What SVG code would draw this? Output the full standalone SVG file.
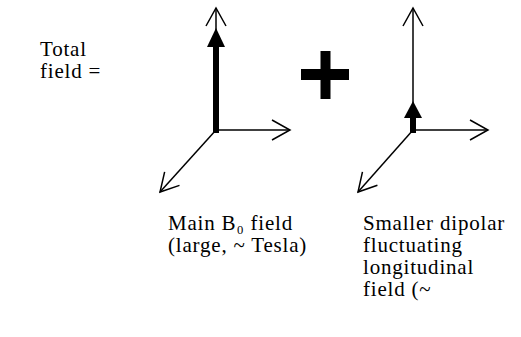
<svg xmlns="http://www.w3.org/2000/svg" width="521" height="337" viewBox="0 0 521 337">
<style>
text{font-family:'Liberation Serif','Times New Roman',serif;font-size:21px;letter-spacing:0.8px;fill:#000}
.thin{stroke:#000;stroke-width:1.5;fill:none}
.thick{stroke:#000;stroke-width:6;fill:none}
</style>
<defs>
<marker id="open" markerUnits="userSpaceOnUse" markerWidth="24" markerHeight="24" viewBox="-20 -12 22 24" refX="0" refY="0" orient="auto">
<path d="M-18,-10 L0,0 L-18,10" fill="none" stroke="#000" stroke-width="1.5"/>
</marker>
</defs>
<rect width="521" height="337" fill="#fff"/>
<g id="label-total">
<text x="40" y="56">Total</text>
<text x="40" y="78">field =</text>
</g>
<g id="connectors">
<g id="axes-main">
<line class="thin" x1="216" y1="130" x2="216" y2="8" marker-end="url(#open)"/>
<line class="thin" x1="215" y1="130" x2="290" y2="130" marker-end="url(#open)"/>
<line class="thin" x1="216" y1="130" x2="160" y2="192" marker-end="url(#open)"/>
<line class="thick" x1="216" y1="133" x2="216" y2="45"/>
<polygon points="216,28 207,47 225,47" fill="#000"/>
</g>
<g id="axes-dipolar">
<line class="thin" x1="413" y1="130" x2="413" y2="8" marker-end="url(#open)"/>
<line class="thin" x1="412" y1="130" x2="488" y2="130" marker-end="url(#open)"/>
<line class="thin" x1="413" y1="130" x2="358" y2="192" marker-end="url(#open)"/>
<line class="thick" x1="413" y1="133" x2="413" y2="116"/>
<polygon points="413,101 404,118 422,118" fill="#000"/>
</g>
</g>
<g id="plus">
<rect x="301" y="69" width="48" height="11" fill="#000"/>
<rect x="320.5" y="51" width="10" height="48" fill="#000"/>
</g>
<g id="label-main">
<text x="168" y="230">Main B₀ field</text>
<text x="168" y="252">(large, ~ Tesla)</text>
</g>
<g id="label-dipolar">
<text x="363" y="230">Smaller dipolar</text>
<text x="363" y="252">fluctuating</text>
<text x="363" y="274">longitudinal</text>
<text x="363" y="296">field (~</text>
</g>
</svg>
